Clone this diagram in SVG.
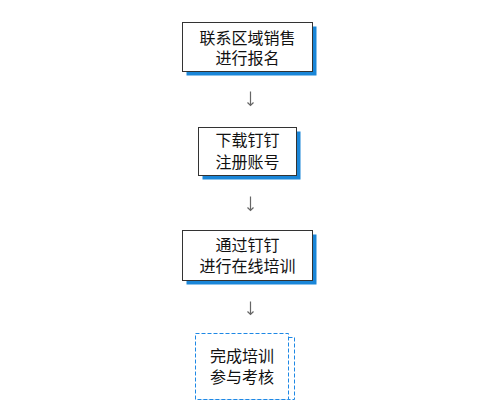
<svg xmlns="http://www.w3.org/2000/svg" width="490" height="417" viewBox="0 0 490 417">
<style>
.box{fill:#ffffff;stroke:#333333;stroke-width:1}
.shadow{fill:#1a86d8}
.dbox{fill:#ffffff;stroke:#1e88e5;stroke-width:1;stroke-dasharray:4 2}
.dsh{fill:none;stroke:#1e88e5;stroke-width:1;stroke-dasharray:4 2}
.t{font-family:"Noto Sans CJK SC","Noto Sans",sans-serif;font-size:16px;fill:#111111;text-anchor:middle}
.arr{fill:none;stroke:#666666;stroke-width:1.2}
</style>
<rect width="490" height="417" fill="#ffffff"/>
<g id="connectors">
<path class="arr" d="M250.5 91.5V105M247.5 102.5L250.5 105.5L253.5 102.5"/>
<path class="arr" d="M250.5 196.5V210M247.5 207.5L250.5 210.5L253.5 207.5"/>
<path class="arr" d="M250.5 301.5V314M247.5 311.5L250.5 314.5L253.5 311.5"/>
</g>
<g id="node1">
<rect class="shadow" x="186.5" y="26.5" width="130" height="49"/>
<rect class="box" x="182.5" y="22.5" width="130" height="49"/>
<text class="t"><tspan x="247.5" y="44">联系区域销售</tspan><tspan x="247.5" y="64">进行报名</tspan></text>
</g>
<g id="node2">
<rect class="shadow" x="202.5" y="131.5" width="98" height="48"/>
<rect class="box" x="198.5" y="127.5" width="98" height="48"/>
<text class="t"><tspan x="247.5" y="146">下载钉钉</tspan><tspan x="247.5" y="168">注册账号</tspan></text>
</g>
<g id="node3">
<rect class="shadow" x="186.5" y="234.5" width="130" height="50"/>
<rect class="box" x="182.5" y="230.5" width="130" height="50"/>
<text class="t"><tspan x="247.5" y="251">通过钉钉</tspan><tspan x="247.5" y="272">进行在线培训</tspan></text>
</g>
<g id="node4">
<path class="dsh" d="M288.5 337.5H294.5V399.5H200"/>
<rect class="dbox" x="195.5" y="333.5" width="93" height="66"/>
<text class="t"><tspan x="242" y="361.5">完成培训</tspan><tspan x="242" y="383">参与考核</tspan></text>
</g>
</svg>
